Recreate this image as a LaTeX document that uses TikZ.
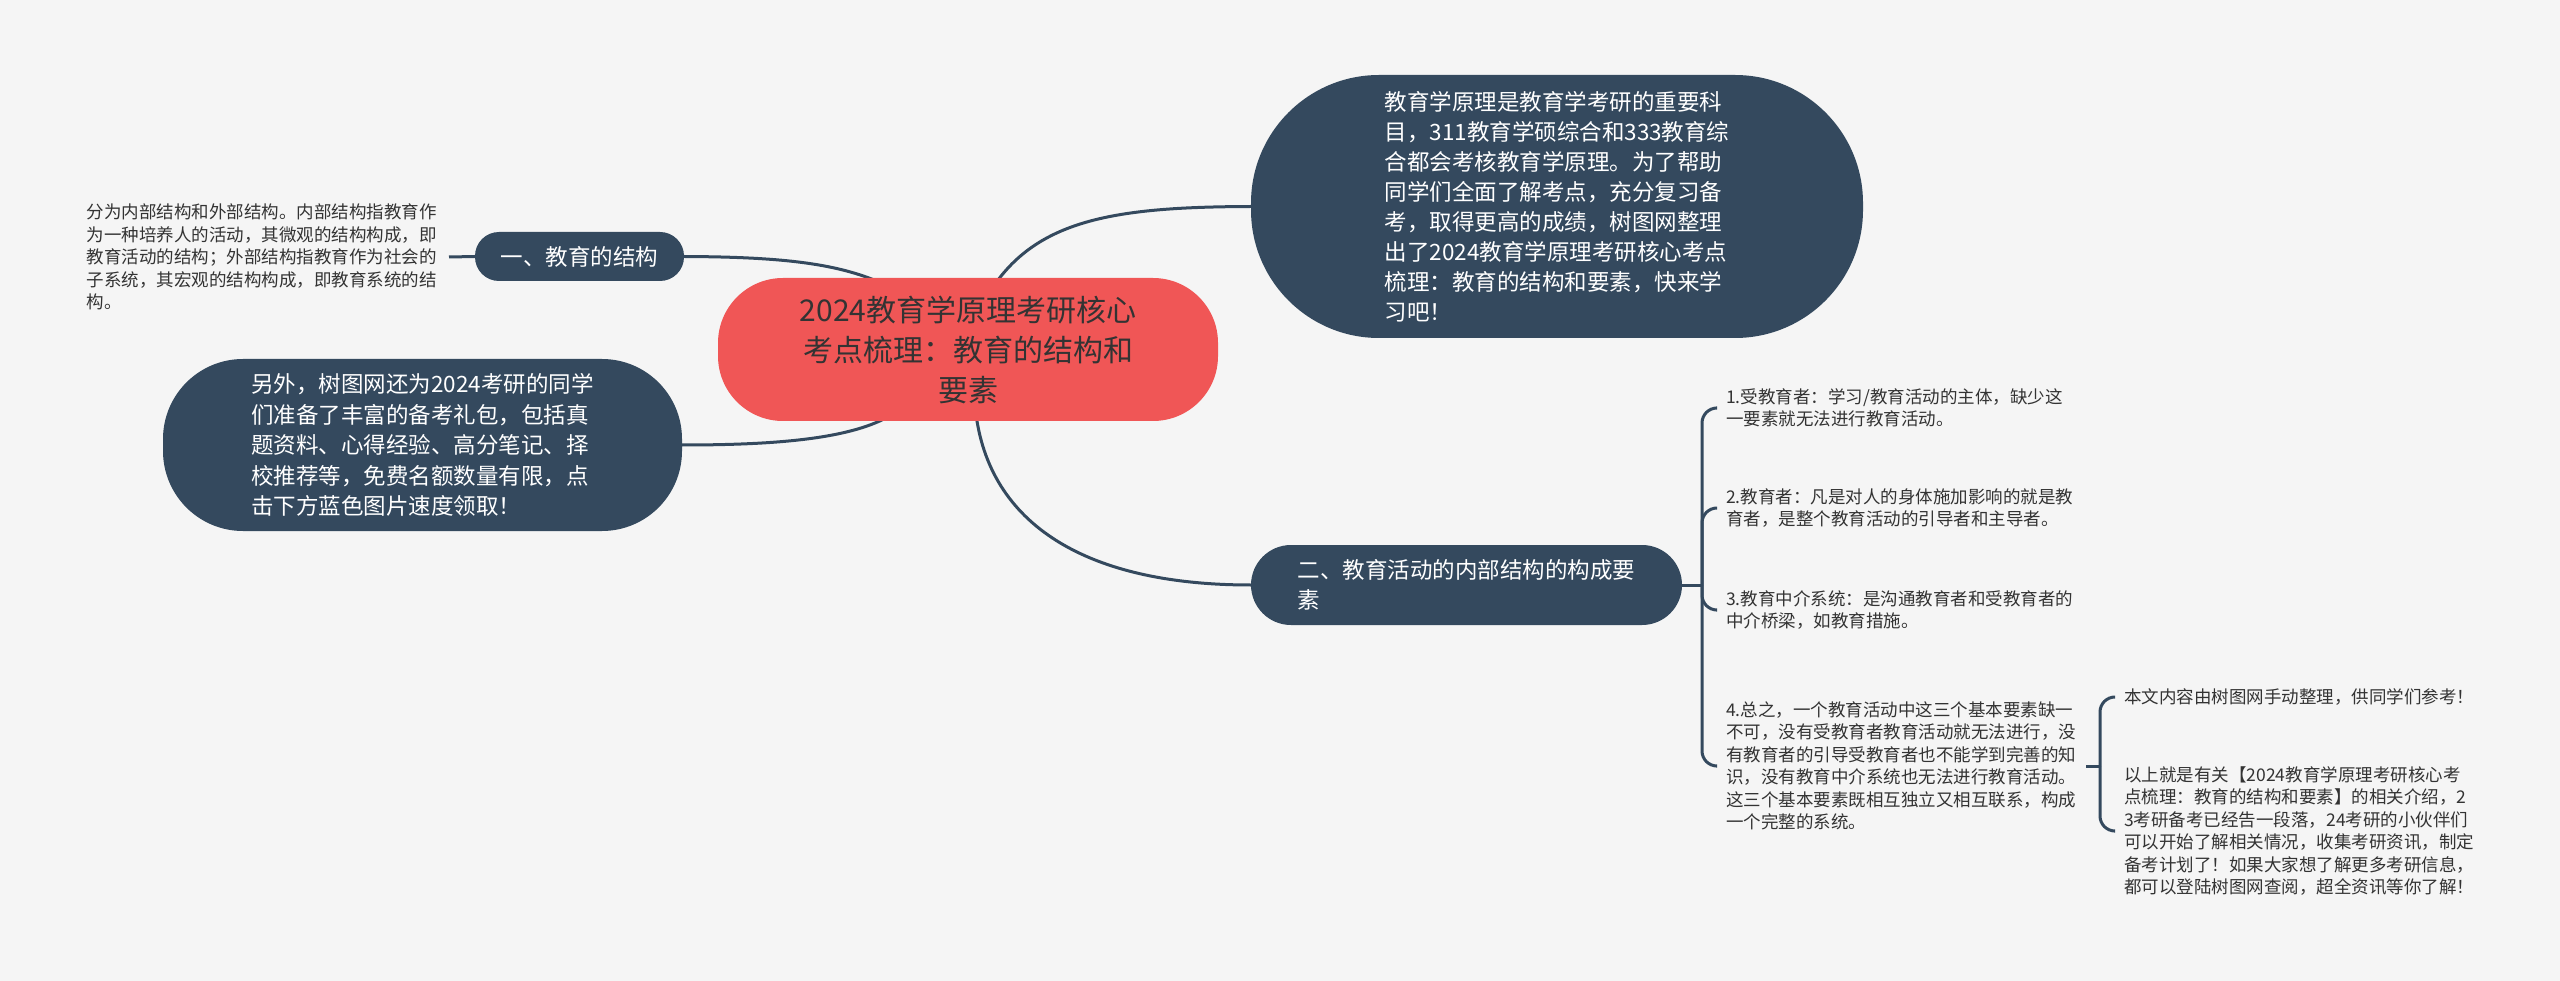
\documentclass[tikz,border=0pt]{standalone}
\usepackage{fontspec}
\setmainfont{Noto Sans CJK SC}
\usetikzlibrary{calc}
\pgfdeclarelayer{bg}
\pgfsetlayers{bg,main}
\definecolor{navy}{HTML}{34495E}
\definecolor{redn}{HTML}{F05656}
\definecolor{bgc}{HTML}{F5F5F5}
\definecolor{txt}{HTML}{333333}
\begin{document}
\begin{tikzpicture}[x=1pt,y=-1pt,
  dark/.style={fill=navy, text=white, inner sep=0pt, align=left},
  conn/.style={draw=navy, line width=3pt},
  brk/.style={draw=navy, line width=3pt, rounded corners=15pt},
  small/.style={font=\fontsize{17.5}{22.5}\selectfont, text=txt, align=left, inner xsep=10pt, inner ysep=0pt},
  mid/.style={font=\fontsize{22.5}{30}\selectfont}
]
\useasboundingbox (0,0) rectangle (2560,981);

% central
\node[fill=redn, text=txt, rounded corners=65pt, minimum width=500pt, minimum height=143pt,
      align=center, font=\fontsize{30}{40}\selectfont, inner sep=0pt] (c) at (968,349.5)
  {2024教育学原理考研核心\\考点梳理：教育的结构和\\要素};

% branches
\node[dark, rounded corners=128pt, minimum width=612pt, minimum height=263pt, mid] (b2) at (1557,206.5)
  {教育学原理是教育学考研的重要科\\目，311教育学硕综合和333教育综\\合都会考核教育学原理。为了帮助\\同学们全面了解考点，充分复习备\\考，取得更高的成绩，树图网整理\\出了2024教育学原理考研核心考点\\梳理：教育的结构和要素，快来学\\习吧！};
\node[dark, rounded corners=80pt, minimum width=519pt, minimum height=172pt, font=\fontsize{22.5}{30.5}\selectfont] (b3) at (422.5,445)
  {另外，树图网还为2024考研的同学\\们准备了丰富的备考礼包，包括真\\题资料、心得经验、高分笔记、择\\校推荐等，免费名额数量有限，点\\击下方蓝色图片速度领取！};
\node[dark, rounded corners=24pt, minimum width=209pt, minimum height=49pt, mid] (b1) at (579.5,256.5)
  {一、教育的结构};
\node[dark, rounded corners=40pt, minimum width=431pt, minimum height=80pt, mid] (b4) at (1466.5,585)
  {二、教育活动的内部结构的构成要\\素};

% leaf texts
\node[small, anchor=east, inner xsep=12pt] (t1) at (449,257)
  {分为内部结构和外部结构。内部结构指教育作\\为一种培养人的活动，其微观的结构构成，即\\教育活动的结构；外部结构指教育作为社会的\\子系统，其宏观的结构构成，即教育系统的结\\构。};
\node[small, anchor=west] (i1) at (1716,408)
  {1.受教育者：学习/教育活动的主体，缺少这\\一要素就无法进行教育活动。};
\node[small, anchor=west] (i2) at (1716,508)
  {2.教育者：凡是对人的身体施加影响的就是教\\育者，是整个教育活动的引导者和主导者。};
\node[small, anchor=west] (i3) at (1716,610)
  {3.教育中介系统：是沟通教育者和受教育者的\\中介桥梁，如教育措施。};
\node[small, anchor=west] (i4) at (1716,766)
  {4.总之，一个教育活动中这三个基本要素缺一\\不可，没有受教育者教育活动就无法进行，没\\有教育者的引导受教育者也不能学到完善的知\\识，没有教育中介系统也无法进行教育活动。\\这三个基本要素既相互独立又相互联系，构成\\一个完整的系统。};
\node[small, anchor=west] (r1) at (2114,697)
  {本文内容由树图网手动整理，供同学们参考！};
\node[small, anchor=west] (r2) at (2114,831)
  {以上就是有关【2024教育学原理考研核心考\\点梳理：教育的结构和要素】的相关介绍，2\\3考研备考已经告一段落，24考研的小伙伴们\\可以开始了解相关情况，收集考研资讯，制定\\备考计划了！如果大家想了解更多考研信息，\\都可以登陆树图网查阅，超全资讯等你了解！};

\coordinate (c1) at (905,295);
\coordinate (c2) at (985,300);
\coordinate (c3) at (905,405);
\coordinate (c4) at (975,405);
\coordinate (j1) at (1702,585);
\coordinate (j2) at (2100,766);

\begin{pgfonlayer}{bg}
\fill[bgc] (0,0) rectangle (2560,981);
\draw[conn] (b1.east) .. controls (800,257) and (855,266) .. (c1);
\draw[conn] (c2) .. controls (1030,220) and (1110,207) .. (b2.west);
\draw[conn] (b3.east) .. controls (790,445) and (870,437) .. (c3);
\draw[conn] (c4) .. controls (985,520) and (1080,585) .. (b4.west);
\draw[conn] (t1.east) -- (b1.west);
\draw[conn] (b4.east) -- (j1);
\draw[brk] (j1) |- (i1.west);
\draw[brk] (j1) |- (i2.west);
\draw[brk] (j1) |- (i3.west);
\draw[brk] (j1) |- (i4.west);
\draw[conn] (i4.east) -- (j2);
\draw[brk] (j2) |- (r1.west);
\draw[brk] (j2) |- (r2.west);
\end{pgfonlayer}
\end{tikzpicture}
\end{document}
